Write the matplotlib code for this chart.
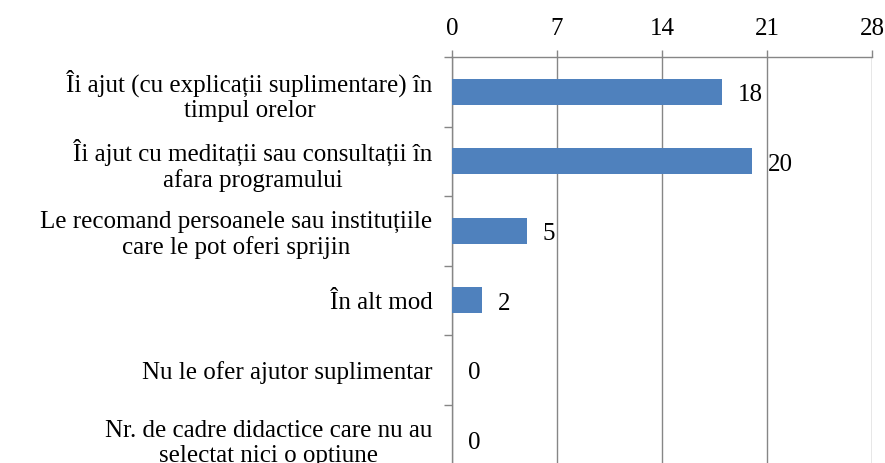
import numpy as np
import matplotlib.pyplot as plt

plt.rcParams['font.family'] = ['Liberation Serif', 'DejaVu Serif']

# categories and values
labels = ['Îi ajut (cu explicații suplimentare) în\ntimpul orelor',
          'Îi ajut cu meditații sau consultații în\nafara programului',
          'Le recomand persoanele sau instituțiile\ncare le pot oferi sprijin',
          'În alt mod',
          'Nu le ofer ajutor suplimentar',
          'Nr. de cadre didactice care nu au\nselectat nici o optiune']
values = [18, 20, 5, 2, 0, 0]
xticks = [0, 7, 14, 21, 28]

grey = '#868686'
fs = 18

fig = plt.figure(figsize=(8.85, 4.63), dpi=100)
ax = fig.add_axes([452/885, 1 - 474/463, 420/885, 417/463])

pos = np.arange(len(labels))
ax.barh(pos, values, height=0.38, color='#4F81BD', linewidth=0, zorder=3)

for p, v in zip(pos, values):
    ax.text(v + 1.05, p + 0.05, str(v), va='center', ha='left', fontsize=fs)

ax.set_xlim(0, 28)
ax.set_ylim(5.5, -0.5)
ax.xaxis.tick_top()
ax.set_xticks(xticks)
ax.set_xticklabels([str(t) for t in xticks], fontsize=fs)
ax.tick_params(axis='x', direction='out', length=5, width=1, color=grey, pad=7)
ax.grid(axis='x', color=grey, linewidth=1, zorder=0)

# category boundaries as major ticks, labels on minor ticks
ax.set_yticks(np.arange(-0.5, 6, 1))
ax.set_yticklabels([])
ax.set_yticks(pos, minor=True)
ax.set_yticklabels(labels, minor=True, fontsize=fs, multialignment='center')
ax.tick_params(axis='y', which='major', direction='out', length=6, width=1, color=grey)
ax.tick_params(axis='y', which='minor', length=0, pad=14)

for s in ['right', 'bottom']:
    ax.spines[s].set_visible(False)
for s in ['left', 'top']:
    ax.spines[s].set_color(grey)
    ax.spines[s].set_linewidth(1)

fig.savefig('out.png', dpi=100)
